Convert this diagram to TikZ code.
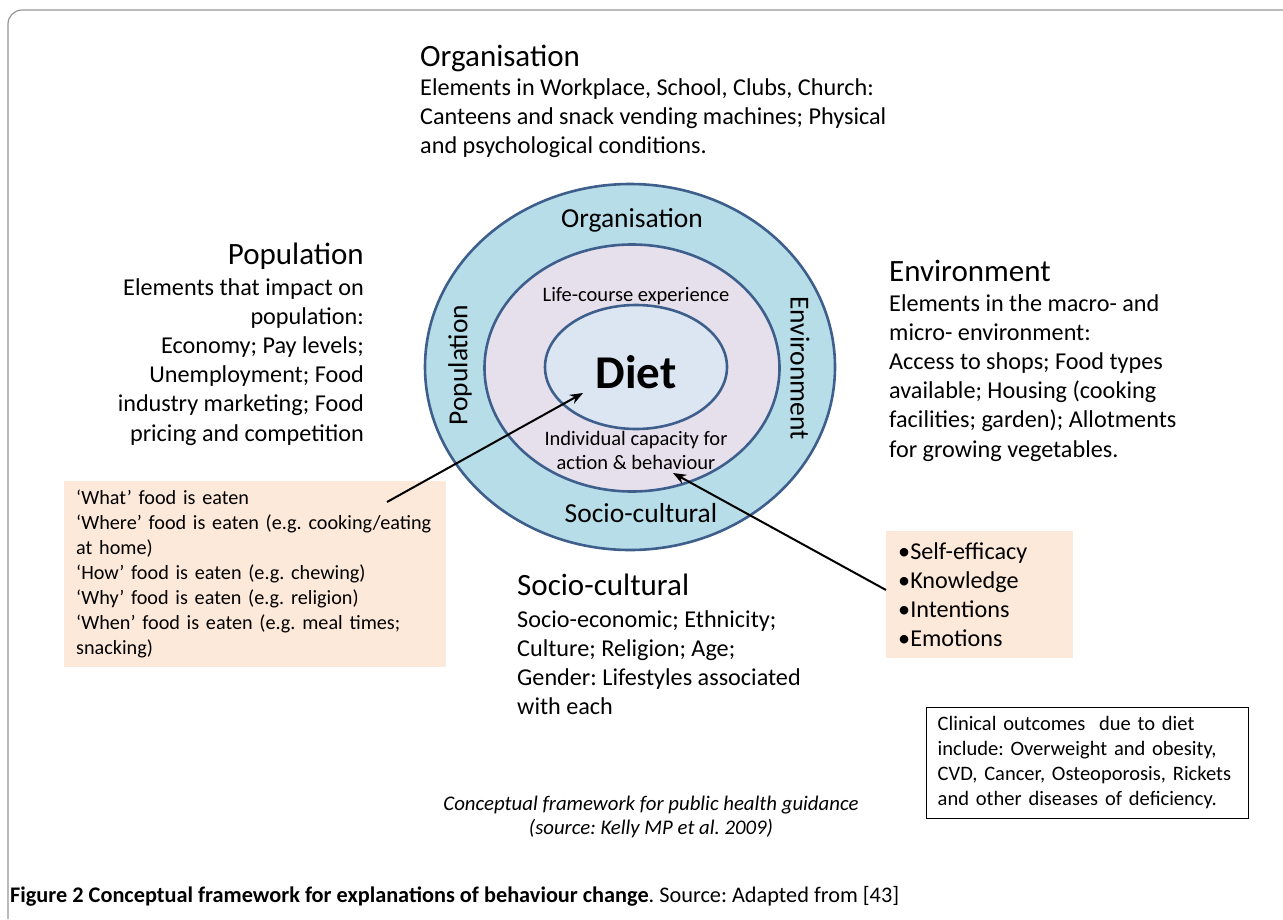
\documentclass[tikz,border=0pt]{standalone}
\usepackage{fontspec}
\setmainfont{Carlito}
\usetikzlibrary{positioning,arrows.meta,shapes.geometric}
\frenchspacing

\definecolor{ringline}{RGB}{62,95,140}
\definecolor{outerfill}{RGB}{183,221,232}
\definecolor{midfill}{RGB}{229,224,236}
\definecolor{innerfill}{RGB}{220,230,242}
\definecolor{peach}{RGB}{253,233,217}
\definecolor{framegray}{RGB}{150,150,150}

\tikzset{
	ring/.style={ellipse,draw=ringline,line width=2.6pt,inner sep=0pt},
	ringtext/.style={font=\fontsize{27.5}{32}\selectfont,inner sep=0pt},
	smalltext/.style={font=\fontsize{20.5}{24}\selectfont,inner sep=0pt,align=center},
	head/.style={font=\fontsize{31}{36}\selectfont,inner sep=0pt},
	body/.style={font=\fontsize{24.2}{29.2}\selectfont,inner sep=0pt},
	notebox/.style={fill=peach,inner xsep=12pt,align=left},
	pointer/.style={-{Stealth[length=13pt,width=10pt]},line width=2pt}
}

\begin{document}
\begin{tikzpicture}[x=1pt,y=-1pt]
	\useasboundingbox (0,0) rectangle (1283,919);
	\draw[framegray,line width=1.2pt,rounded corners=14pt] (8,919) -- (8,10) -- (1283,10);

	% rings
	\node[ring,fill=outerfill,minimum width=410pt,minimum height=366pt] (outer) at (630,367) {};
	\node[ring,fill=midfill,minimum width=295pt,minimum height=247pt] (middle) at (632,368) {};
	\node[ring,fill=innerfill,minimum width=182pt,minimum height=124pt] (inner) at (636,367) {};

	\node[ringtext] (orgring) at (632,220) {Organisation};
	\node[ringtext] (socring) at (641,513) {Socio-cultural};
	\node[ringtext,rotate=90] (popring) at (460,365) {Population};
	\node[ringtext,rotate=-90] (envring) at (800,368) {Environment};
	\node[smalltext] (life) at (636,296) {Life-course experience};
	\node[smalltext] (capacity) at (636,450) {Individual capacity for\\action \& behaviour};
	\node[font=\fontsize{47}{52}\selectfont\bfseries,inner sep=0pt] (diet) at (636,372) {Diet};

	% outer blocks
	\node[head,anchor=north west] (orghead) at (420,45) {Organisation};
	\node[body,anchor=north west,align=left] (orgbody) at (420,78)
		{Elements in Workplace, School, Clubs, Church:\\
		 Canteens and snack vending machines; Physical\\
		 and psychological conditions.};

	\node[head,anchor=north east] (pophead) at (364,243) {Population};
	\node[body,anchor=north east,align=right] (popbody) at (364,278)
		{Elements that impact on\\ population:\\ Economy; Pay levels;\\
		 Unemployment; Food\\ industry marketing; Food\\ pricing and competition};

	\node[head,anchor=north west] (envhead) at (889,260) {Environment};
	\node[body,anchor=north west,align=left] (envbody) at (889,294)
		{Elements in the macro- and\\ micro- environment:\\
		 Access to shops; Food types\\ available; Housing (cooking\\
		 facilities; garden); Allotments\\ for growing vegetables.};

	\node[head,anchor=north west] (sochead) at (517,574) {Socio-cultural};
	\node[body,anchor=north west,align=left] (socbody) at (517,610)
		{Socio-economic; Ethnicity;\\ Culture; Religion; Age;\\
		 Gender: Lifestyles associated\\ with each};

	% note boxes
	\node[notebox,anchor=north west,font=\fontsize{20.2}{25}\selectfont,
		text width=358pt,inner ysep=9pt] (foodbox) at (64,481)
		{‘What’ food is eaten\\
		 ‘Where’ food is eaten (e.g. cooking/eating\\ at home)\\
		 ‘How’ food is eaten (e.g. chewing)\\
		 ‘Why’ food is eaten (e.g. religion)\\
		 ‘When’ food is eaten (e.g. meal times;\\ snacking)};
	\node[notebox,anchor=north west,font=\fontsize{24.2}{29.2}\selectfont,
		text width=163pt,inner ysep=11pt] (selfbox) at (886,531)
		{•Self-efficacy\\ •Knowledge\\ •Intentions\\ •Emotions};
	\node[draw=black,fill=white,line width=1.4pt,anchor=north west,align=left,
		font=\fontsize{20.5}{25}\selectfont,text width=300pt,inner xsep=11pt,inner ysep=9pt]
		(clinical) at (926,707)
		{Clinical outcomes~ due to diet\\ include: Overweight and obesity,\\
		 CVD, Cancer, Osteoporosis, Rickets\\ and other diseases of deficiency.};

	\node[smalltext,font=\fontsize{20.8}{24}\selectfont\itshape] (source) at (651,817)
		{Conceptual framework for public health guidance\\ (source: Kelly MP et al. 2009)};

	% arrows
	\coordinate (whatpt) at (387,502);
	\coordinate (dietpt) at (583,393);
	\coordinate (selfpt) at (886,590);
	\coordinate (behavpt) at (673,473);
	\draw[pointer] (whatpt) -- (dietpt);
	\draw[pointer] (selfpt) -- (behavpt);

	\node[anchor=base west,inner sep=0pt,font=\fontsize{22.3}{26}\selectfont] (caption) at (10,902)
		{\textbf{Figure 2 Conceptual framework for explanations of behaviour change}. Source: Adapted from [43]};
\end{tikzpicture}
\end{document}
